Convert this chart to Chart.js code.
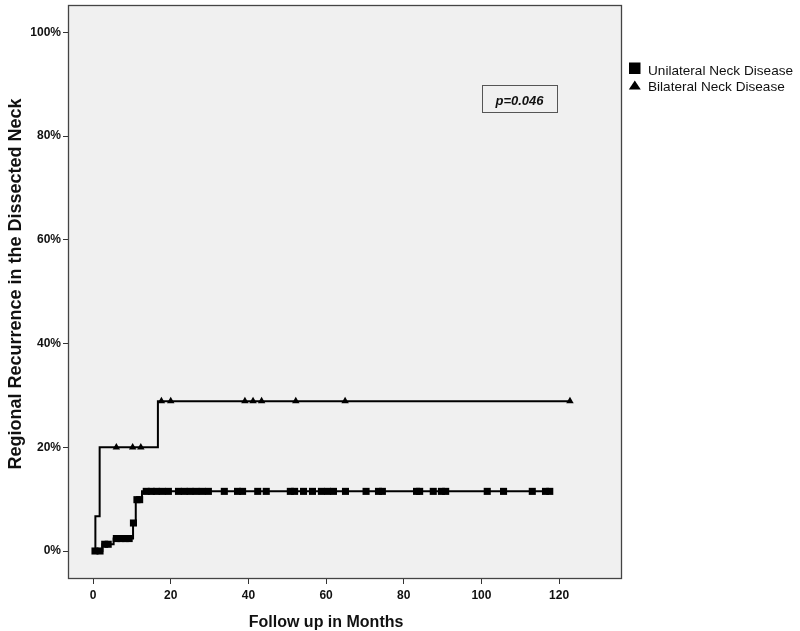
<!DOCTYPE html>
<html><head><meta charset="utf-8">
<script src="https://cdn.jsdelivr.net/npm/chart.js@4"></script>
<style>html,body{margin:0;padding:0;background:#fff}#wrap{width:800px;height:631px;position:relative}</style>
</head><body><div id="wrap"><canvas id="c" width="800" height="631"></canvas></div>
<script>
// ---- data ----
const xTicks = [0, 20, 40, 60, 80, 100, 120];
const yTicks = [0, 20, 40, 60, 80, 100];
const seriesNames = ['Unilateral Neck Disease', 'Bilateral Neck Disease'];
const xTitle = 'Follow up in Months';
const yTitle = 'Regional Recurrence in the Dissected Neck';
const pLabel = 'p=0.046';

// Unilateral: times (months) where cumulative recurrence steps, and the level (%) after each step
const uniEventTimes = [0, 2.4, 5.3, 10.3, 11.0, 12.6];
const uniEventPct   = [0, 1.3, 2.4, 5.4, 9.9, 11.5];
const uniEndTime = 117.6;
const uniCensorTimes = [0.5, 1.8, 3.0, 3.9, 6.0, 7.2, 8.3, 9.3, 10.4, 11.3, 12.0, 13.7, 15.0, 16.3, 17.8, 19.4,
  22.0, 23.5, 25.0, 26.5, 28.1, 29.7, 33.8, 37.2, 38.5, 42.4, 44.6, 50.8, 51.9, 54.2, 56.5, 58.8, 60.4, 61.9,
  65.0, 70.3, 73.5, 74.5, 83.3, 84.1, 87.6, 89.7, 90.8, 101.5, 105.7, 113.1, 116.5, 117.6];

// Bilateral
const biEventTimes = [0, 0.6, 1.7, 16.7];
const biEventPct   = [0, 6.7, 20.0, 28.9];
const biEndTime = 122.8;
const biCensorTimes = [6.0, 10.2, 12.3, 17.6, 20.0, 39.1, 41.2, 43.4, 52.2, 64.9, 122.8];

// ---- build library data ----
function stepLine(times, pcts, end) {
  const pts = times.map((t, i) => ({x: t, y: pcts[i]}));
  pts.push({x: end, y: pcts[pcts.length - 1]});
  return pts;
}
function levelAt(times, pcts, t) {
  let v = pcts[0];
  for (let i = 0; i < times.length; i++) if (times[i] <= t) v = pcts[i];
  return v;
}
const censorPts = (ct, times, pcts) => ct.map(t => ({x: t, y: levelAt(times, pcts, t)}));

const FONT = "'Liberation Sans', Arial, sans-serif";

const decor = {
  id: 'decor',
  beforeDraw(chart) {
    const {ctx, chartArea: a} = chart;
    ctx.save();
    ctx.fillStyle = '#fff';
    ctx.fillRect(0, 0, chart.width, chart.height);
    ctx.fillStyle = '#f0f0f0';
    ctx.fillRect(a.left, a.top, a.right - a.left, a.bottom - a.top);
    ctx.restore();
  },
  afterDraw(chart) {
    const {ctx, chartArea: a, scales} = chart;
    ctx.save();
    // frame
    ctx.strokeStyle = '#444';
    ctx.lineWidth = 1.3;
    ctx.strokeRect(a.left + 0.5, a.top + 0.5, a.right - a.left - 1, a.bottom - a.top - 1);
    // axis titles
    ctx.fillStyle = '#111';
    ctx.font = 'bold 16px ' + FONT;
    ctx.textAlign = 'center';
    ctx.textBaseline = 'alphabetic';
    const xc = (scales.x.getPixelForValue(xTicks[0]) + scales.x.getPixelForValue(xTicks[xTicks.length - 1])) / 2;
    ctx.fillText(xTitle, xc, 626.5);
    ctx.font = 'bold 18px ' + FONT;
    ctx.save();
    ctx.translate(20.5, 284);
    ctx.rotate(-Math.PI / 2);
    ctx.fillText(yTitle, 0, 0);
    ctx.restore();
    // legend
    ctx.fillStyle = '#000';
    ctx.fillRect(629, 62.5, 11.5, 11.5);
    ctx.beginPath();
    ctx.moveTo(634.8, 80.5);
    ctx.lineTo(640.8, 89.5);
    ctx.lineTo(628.8, 89.5);
    ctx.closePath();
    ctx.fill();
    ctx.fillStyle = '#111';
    ctx.font = '13.6px ' + FONT;
    ctx.textAlign = 'left';
    ctx.fillText(seriesNames[0], 648, 74.5);
    ctx.fillText(seriesNames[1], 648, 91);
    // p-value box
    ctx.strokeStyle = '#555';
    ctx.lineWidth = 1;
    ctx.strokeRect(482.5, 85.5, 75, 27);
    ctx.fillStyle = '#111';
    ctx.font = 'italic bold 13px ' + FONT;
    ctx.textAlign = 'center';
    ctx.fillText(pLabel, 519.5, 104.5);
    ctx.restore();
  }
};

new Chart(document.getElementById('c'), {
  type: 'line',
  data: {
    datasets: [
      {label: seriesNames[0], data: stepLine(uniEventTimes, uniEventPct, uniEndTime), stepped: true,
       borderColor: '#000', borderWidth: 2, pointRadius: 0, fill: false},
      {label: seriesNames[0] + ' censored', data: censorPts(uniCensorTimes, uniEventTimes, uniEventPct), showLine: false,
       pointStyle: 'rect', pointRadius: 5, backgroundColor: '#000', borderColor: '#000', borderWidth: 0},
      {label: seriesNames[1], data: stepLine(biEventTimes, biEventPct, biEndTime), stepped: true,
       borderColor: '#000', borderWidth: 2, pointRadius: 0, fill: false},
      {label: seriesNames[1] + ' censored', data: censorPts(biCensorTimes, biEventTimes, biEventPct), showLine: false,
       pointStyle: 'triangle', pointRadius: 4.3, backgroundColor: '#000', borderColor: '#000', borderWidth: 0}
    ]
  },
  options: {
    responsive: false,
    animation: false,
    devicePixelRatio: 1,
    layout: {padding: {left: 0, top: 2, right: 178, bottom: 0}},
    plugins: {legend: {display: false}, tooltip: {enabled: false}},
    scales: {
      x: {
        type: 'linear', min: -6.45, max: 136.2,
        afterBuildTicks(s) { s.ticks = xTicks.map(v => ({value: v})); },
        afterFit(s) { s.height = 52; s.paddingLeft = 0; s.paddingRight = 0; },
        grid: {drawOnChartArea: false, drawTicks: true, tickLength: 5, color: '#333', lineWidth: 1},
        border: {display: false},
        ticks: {font: {size: 12, weight: 'bold', family: FONT}, color: '#111', padding: 4, maxRotation: 0, autoSkip: false}
      },
      y: {
        type: 'linear', min: -5.4, max: 105.3,
        afterBuildTicks(s) { s.ticks = yTicks.map(v => ({value: v})); },
        afterFit(s) { s.width = 68; s.paddingTop = 0; s.paddingBottom = 0; },
        grid: {drawOnChartArea: false, drawTicks: true, tickLength: 5, color: '#333', lineWidth: 1},
        border: {display: false},
        ticks: {font: {size: 12, weight: 'bold', family: FONT}, color: '#111', padding: 2,
                callback: v => v + '%'}
      }
    }
  },
  plugins: [decor]
});
</script></body></html>
